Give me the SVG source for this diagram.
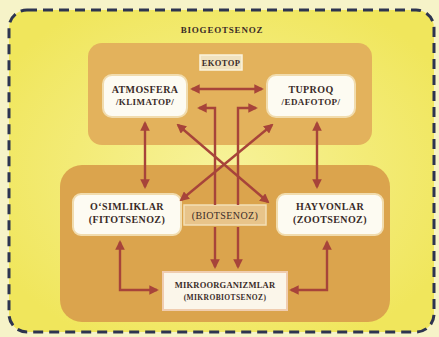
<svg xmlns="http://www.w3.org/2000/svg" width="439" height="337" viewBox="0 0 439 337">
<defs>
<radialGradient id="bg" cx="0.5" cy="0.5" r="0.6">
<stop offset="0" stop-color="#f7f29a"/>
<stop offset="1" stop-color="#f0e65c"/>
</radialGradient>
<marker id="ah" viewBox="0 0 10 10" refX="8" refY="5" markerWidth="4" markerHeight="4" orient="auto-start-reverse">
<path d="M0,0 L10,5 L0,10 z" fill="#a7443a"/>
</marker>
</defs>
<style>
.t{font-family:"Liberation Serif","Times New Roman",serif;font-weight:bold;font-size:10px;letter-spacing:0.4px;fill:#3a2b28;text-anchor:middle}
.box{fill:#fdfbf2;stroke:#f1dcae;stroke-width:2}
.ln{stroke:#a7443a;stroke-width:2.4;fill:none}
</style>
<rect x="0" y="0" width="439" height="337" fill="#f6f3c8"/>
<rect id="frame" x="9" y="10" width="425" height="322" rx="18" fill="url(#bg)" stroke="#2d3450" stroke-width="3" stroke-dasharray="10,6"/>
<text class="t" x="222" y="33" style="font-size:9px;letter-spacing:0.8px">BIOGEOTSENOZ</text>
<rect id="panel-top" x="88" y="43" width="284" height="102" rx="14" fill="#e3b25c"/>
<rect id="panel-bottom" x="60" y="165" width="330" height="157" rx="22" fill="#dba44d"/>
<g id="ekotop">
<rect x="200" y="55" width="42" height="15" fill="#f0e2c0" stroke="#fbf3dc" stroke-width="1.5"/>
<text class="t" x="221" y="66" style="font-size:8.5px">EKOTOP</text>
</g>
<g id="atmosfera">
<rect class="box" x="103" y="75" width="84" height="42" rx="9"/>
<text class="t" x="145" y="93">ATMOSFERA</text>
<text class="t" x="145" y="105" style="font-size:9px">/KLIMATOP/</text>
</g>
<g id="tuproq">
<rect class="box" x="267" y="75" width="88" height="42" rx="9"/>
<text class="t" x="311" y="93">TUPROQ</text>
<text class="t" x="311" y="105" style="font-size:9px">/EDAFOTOP/</text>
</g>
<g id="osimliklar">
<rect class="box" x="73" y="194" width="108" height="41" rx="8"/>
<text class="t" x="127" y="210">O‘SIMLIKLAR</text>
<text class="t" x="127" y="223">(FITOTSENOZ)</text>
</g>
<g id="biotsenoz">
<rect x="184" y="205" width="82" height="20" fill="#e8c48a" stroke="#f4dfb6" stroke-width="1.5"/>
<text class="t" x="225" y="219" style="font-weight:normal">(BIOTSENOZ)</text>
</g>
<g id="hayvonlar">
<rect class="box" x="277" y="194" width="106" height="41" rx="8"/>
<text class="t" x="330" y="210">HAYVONLAR</text>
<text class="t" x="330" y="223">(ZOOTSENOZ)</text>
</g>
<g id="mikroorganizmlar">
<rect x="163" y="272" width="124" height="38" fill="#fbf6ea" stroke="#f0cdb0" stroke-width="2"/>
<text class="t" x="225" y="288" style="font-size:8.5px;letter-spacing:0.2px">MIKROORGANIZMLAR</text>
<text class="t" x="225" y="300" style="font-size:7.5px;letter-spacing:0.4px">(MIKROBIOTSENOZ)</text>
</g>
<g id="connectors">
<line class="ln" x1="192" y1="89" x2="262" y2="89" marker-start="url(#ah)" marker-end="url(#ah)"/>
<line class="ln" x1="145" y1="123" x2="145" y2="187" marker-start="url(#ah)" marker-end="url(#ah)"/>
<line class="ln" x1="317" y1="123" x2="317" y2="187" marker-start="url(#ah)" marker-end="url(#ah)"/>
<polyline class="ln" points="215,205 215,108 199,108" marker-end="url(#ah)"/>
<polyline class="ln" points="238,205 238,108 256,108" marker-end="url(#ah)"/>
<line class="ln" x1="178" y1="125" x2="268" y2="202" marker-start="url(#ah)" marker-end="url(#ah)"/>
<line class="ln" x1="272" y1="125" x2="181" y2="200" marker-start="url(#ah)" marker-end="url(#ah)"/>
<line class="ln" x1="215" y1="227" x2="215" y2="267" marker-end="url(#ah)"/>
<line class="ln" x1="238" y1="227" x2="238" y2="267" marker-end="url(#ah)"/>
<polyline class="ln" points="120,242 120,290 157,290" marker-start="url(#ah)" marker-end="url(#ah)"/>
<polyline class="ln" points="327,242 327,290 291,290" marker-start="url(#ah)" marker-end="url(#ah)"/>
</g>
</svg>
